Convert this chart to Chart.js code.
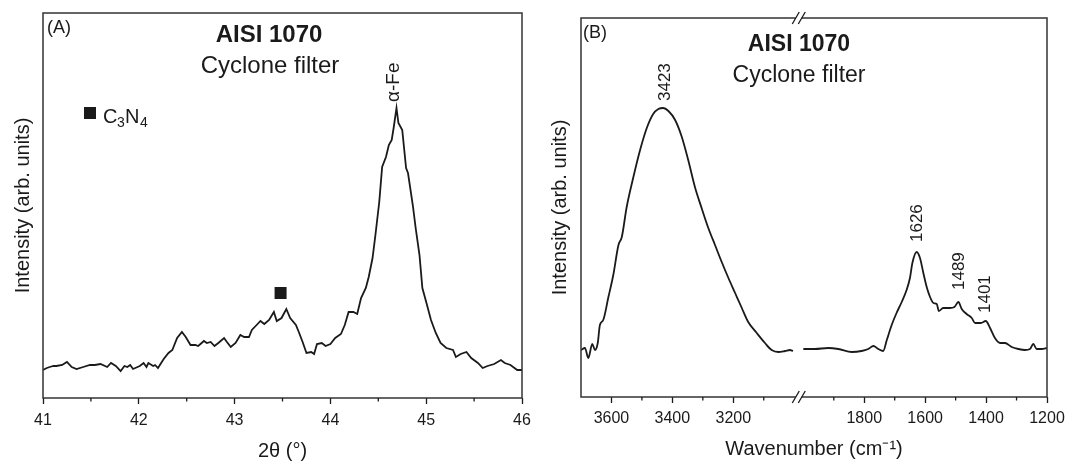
<!DOCTYPE html>
<html>
<head>
<meta charset="utf-8">
<title>AISI 1070 cyclone filter - XRD and FTIR</title>
<script src="https://cdn.jsdelivr.net/npm/chart.js@4.4.1/dist/chart.umd.min.js"></script>
<style>
  html, body { margin: 0; padding: 0; background: #fff; }
  #wrap { position: relative; width: 1067px; height: 461px; }
  canvas { position: absolute; top: 0; }
  #xrd { left: 0; }
  #ftir { left: 535px; }
</style>
</head>
<body>
<div id="wrap">
  <canvas id="xrd" width="535" height="461"></canvas>
  <canvas id="ftir" width="532" height="461"></canvas>
</div>
<script>
// (A) XRD pattern, 2theta in degrees, intensity in arbitrary units
const xrdTheta = [41.00, 41.04, 41.07, 41.11, 41.14, 41.20, 41.25, 41.30, 41.35, 41.42, 41.49, 41.54, 41.60, 41.67,
  41.71, 41.76, 41.81, 41.85, 41.88, 41.91, 41.94, 42.01, 42.05, 42.08, 42.10, 42.15, 42.17, 42.20, 42.26, 42.31,
  42.35, 42.40, 42.45, 42.49, 42.54, 42.59, 42.62, 42.68, 42.71, 42.75, 42.79, 42.83, 42.89, 42.92, 42.96, 43.01,
  43.06, 43.10, 43.15, 43.18, 43.23, 43.27, 43.31, 43.36, 43.41, 43.44, 43.49, 43.54, 43.58, 43.64, 43.67, 43.71,
  43.75, 43.80, 43.83, 43.86, 43.91, 43.95, 44.00, 44.05, 44.11, 44.15, 44.19, 44.24, 44.28, 44.32, 44.37, 44.40,
  44.44, 44.47, 44.51, 44.54, 44.58, 44.61, 44.64, 44.66, 44.69, 44.71, 44.75, 44.79, 44.81, 44.86, 44.89, 44.93,
  44.96, 45.00, 45.05, 45.10, 45.15, 45.21, 45.28, 45.31, 45.36, 45.42, 45.47, 45.54, 45.59, 45.64, 45.71, 45.78,
  45.82, 45.88, 45.95, 46.00];
const xrdIntensity = [27, 29, 30, 31, 31, 32, 35, 30, 28, 30, 32, 32, 33, 30,
  34, 31, 26, 31, 30, 32, 28, 31, 34, 30, 34, 31, 32, 29, 38, 44,
  47, 59, 65, 60, 52, 52, 51, 56, 54, 55, 51, 54, 59, 55, 50, 54,
  62, 60, 60, 67, 72, 76, 73, 77, 85, 76, 79, 88, 79, 72, 65, 55,
  44, 45, 43, 53, 54, 51, 53, 59, 63, 72, 85, 85, 83, 99, 109, 120,
  139, 162, 195, 230, 240, 252, 257, 269, 289, 274, 267, 229, 224, 192, 169, 142,
  109, 95, 77, 64, 54, 49, 47, 40, 43, 45, 39, 34, 29, 31, 33, 37,
  34, 32, 27, 27];
const xrdMajorTicks = [41, 42, 43, 44, 45, 46];
const xrdMinorTicks = [41.5, 42.5, 43.5, 44.5, 45.5];

// (B) FTIR spectrum, wavenumber in cm-1; the axis is broken between 3000 and 2000
const ftirHighWn = [3700, 3687, 3676, 3663, 3654, 3645, 3638, 3627, 3610, 3594, 3577, 3566, 3550, 3528, 3506,
  3484, 3463, 3446, 3430, 3413, 3391, 3369, 3348, 3326, 3304, 3282, 3260, 3238, 3216, 3194, 3172, 3151, 3123,
  3096, 3074, 3052, 3030, 3014, 3004];
const ftirHighI = [47, 49, 39, 53, 47, 54, 72, 77, 100, 122, 152, 160, 190, 220, 247,
  269, 283, 288, 289, 286, 277, 260, 237, 210, 189, 169, 152, 135, 119, 104, 89, 75, 64,
  54, 47, 45, 46, 47, 46];
const ftirLowWn = [2000, 1962, 1918, 1885, 1841, 1809, 1787, 1770, 1754, 1738, 1726, 1710, 1694, 1677, 1661,
  1650, 1642, 1628, 1617, 1606, 1595, 1584, 1573, 1562, 1555, 1541, 1519, 1504, 1491, 1480, 1464, 1447, 1436,
  1417, 1401, 1387, 1371, 1354, 1338, 1316, 1294, 1272, 1256, 1245, 1234, 1217, 1200];
const ftirLowI = [48, 48, 49, 48, 45, 46, 48, 51, 48, 46, 57, 72, 84, 95, 107,
  119, 134, 145, 139, 124, 110, 100, 94, 93, 86, 89, 89, 90, 95, 88, 83, 79, 74,
  74, 76, 69, 59, 54, 54, 50, 48, 47, 48, 53, 48, 48, 49];
const ftirMajorTicks = [3600, 3400, 3200, 1800, 1600, 1400, 1200];
const ftirMinorTicks = [3500, 3300, 3100, 1900, 1700, 1500, 1300];
const ftirPeaks = [3423, 1626, 1489, 1401];
const ftirPeakTop = [296, 155, 107, 84];   // intensity where each rotated label starts

const INK = '#1a1a1a';
Chart.defaults.font.family = '"Liberation Sans", Arial, sans-serif';
Chart.defaults.color = INK;

// broken axis: 3700..3000 then a short gap then 2000..1200, all on one linear scale
const BREAK_HI = 3000, BREAK_LO = 2000, BREAK_GAP = 30;
const wnToPos = w => w >= BREAK_HI ? 3700 - w : (3700 - BREAK_HI) + BREAK_GAP + (BREAK_LO - w);
const posToWn = p => p <= 3700 - BREAK_HI ? 3700 - p : BREAK_LO - (p - (3700 - BREAK_HI) - BREAK_GAP);

function drawFrame(chart) {
  const {ctx, chartArea: a} = chart;
  ctx.save();
  ctx.strokeStyle = '#333';
  ctx.lineWidth = 1.5;
  ctx.strokeRect(a.left, a.top, a.right - a.left, a.bottom - a.top);
  ctx.restore();
}

function drawMinorTicks(chart, values) {
  const {ctx, chartArea: a, scales: {x}} = chart;
  ctx.save();
  ctx.strokeStyle = INK;
  ctx.lineWidth = 1.3;
  ctx.beginPath();
  values.forEach(v => {
    const px = x.getPixelForValue(v);
    ctx.moveTo(px, a.bottom);
    ctx.lineTo(px, a.bottom + 3.5);
  });
  ctx.stroke();
  ctx.restore();
}

function text(ctx, str, x, y, size, opts = {}) {
  ctx.save();
  ctx.fillStyle = INK;
  ctx.font = (opts.bold ? 'bold ' : '') + size + 'px "Liberation Sans", Arial, sans-serif';
  ctx.textAlign = opts.align || 'left';
  ctx.textBaseline = opts.baseline || 'alphabetic';
  if (opts.rotate) {
    ctx.translate(x, y);
    ctx.rotate(-Math.PI / 2);
    ctx.fillText(str, 0, 0);
  } else {
    ctx.fillText(str, x, y);
  }
  ctx.restore();
}

function drawBreak(ctx, cx, cy) {
  ctx.save();
  ctx.fillStyle = '#fff';
  ctx.fillRect(cx - 3, cy - 2, 6, 4);
  ctx.strokeStyle = INK;
  ctx.lineWidth = 1.3;
  ctx.beginPath();
  [-3, 3].forEach(dx => {
    ctx.moveTo(cx + dx - 3.5, cy + 6);
    ctx.lineTo(cx + dx + 3.5, cy - 6);
  });
  ctx.stroke();
  ctx.restore();
}

// keep the plot frame fixed: no extra room for overhanging end labels
function fixBottomAxis(height) {
  return s => {
    s.height = height;
    s.paddingLeft = 0;
    s.paddingRight = 0;
  };
}

const xrdNotes = {
  id: 'xrdNotes',
  afterDraw(chart) {
    const {ctx, chartArea: a, scales: {x, y}} = chart;
    drawFrame(chart);
    drawMinorTicks(chart, xrdMinorTicks);
    text(ctx, '(A)', a.left + 4, a.top + 20, 18);
    text(ctx, 'AISI 1070', a.left + 226, a.top + 29, 24, {bold: true, align: 'center'});
    text(ctx, 'Cyclone filter', a.left + 227, a.top + 60, 24, {align: 'center'});
    // legend: filled square + C3N4
    ctx.fillStyle = INK;
    ctx.fillRect(a.left + 41, a.top + 94, 12, 12);
    text(ctx, 'C', a.left + 60, a.top + 110, 20);
    text(ctx, '3', a.left + 74, a.top + 114, 14);
    text(ctx, 'N', a.left + 82, a.top + 110, 20);
    text(ctx, '4', a.left + 97, a.top + 114, 14);
    // C3N4 reflection marker and alpha-Fe label
    const mx = x.getPixelForValue(43.48), my = y.getPixelForValue(104);
    ctx.fillRect(mx - 6, my - 6, 12, 12);
    text(ctx, 'α-Fe', x.getPixelForValue(44.66), y.getPixelForValue(295), 19, {rotate: true, baseline: 'middle'});
  }
};

const ftirNotes = {
  id: 'ftirNotes',
  afterDraw(chart) {
    const {ctx, chartArea: a, scales: {x, y}} = chart;
    drawFrame(chart);
    drawMinorTicks(chart, ftirMinorTicks.map(wnToPos));
    const bx = (x.getPixelForValue(3700 - BREAK_HI) + x.getPixelForValue(3700 - BREAK_HI + BREAK_GAP)) / 2;
    drawBreak(ctx, bx, a.top);
    drawBreak(ctx, bx, a.bottom);
    text(ctx, '(B)', a.left + 2, a.top + 20, 18);
    text(ctx, 'AISI 1070', a.left + 218, a.top + 33, 23, {bold: true, align: 'center'});
    text(ctx, 'Cyclone filter', a.left + 218, a.top + 64, 23, {align: 'center'});
    ftirPeaks.forEach((w, i) => {
      text(ctx, String(w), x.getPixelForValue(wnToPos(w)), y.getPixelForValue(ftirPeakTop[i]), 17,
        {rotate: true, baseline: 'middle'});
    });
  }
};

const lineStyle = {borderColor: INK, borderWidth: 1.8, pointRadius: 0, fill: false};

new Chart(document.getElementById('xrd'), {
  type: 'line',
  data: {
    datasets: [{
      ...lineStyle,
      tension: 0,
      data: xrdTheta.map((t, i) => ({x: t, y: xrdIntensity[i]}))
    }]
  },
  options: {
    responsive: false,
    animation: false,
    layout: {padding: {top: 13, right: 13, left: 0, bottom: 0}},
    plugins: {legend: {display: false}, tooltip: {enabled: false}},
    scales: {
      x: {
        type: 'linear', min: 41, max: 46,
        afterBuildTicks: s => { s.ticks = xrdMajorTicks.map(v => ({value: v})); },
        ticks: {autoSkip: false, maxRotation: 0, padding: 7, font: {size: 16}, color: INK},
        grid: {drawOnChartArea: false, tickLength: 6, tickWidth: 1.3, tickColor: INK},
        border: {display: false},
        title: {display: true, text: '2θ (°)', font: {size: 20, lineHeight: 1}, padding: {top: 0, bottom: 0}, color: INK},
        afterFit: fixBottomAxis(63)
      },
      y: {
        min: -1, max: 384,
        ticks: {display: false},
        grid: {display: false},
        border: {display: false},
        title: {display: true, text: 'Intensity (arb. units)', font: {size: 20, lineHeight: 1}, padding: {top: 13}, color: INK},
        afterFit: s => { s.width = 43; }
      }
    }
  },
  plugins: [xrdNotes]
});

new Chart(document.getElementById('ftir'), {
  type: 'line',
  data: {
    datasets: [{
      ...lineStyle,
      cubicInterpolationMode: 'monotone',
      data: ftirHighWn.map((w, i) => ({x: wnToPos(w), y: ftirHighI[i]}))
    }, {
      ...lineStyle,
      cubicInterpolationMode: 'monotone',
      data: ftirLowWn.map((w, i) => ({x: wnToPos(w), y: ftirLowI[i]}))
    }]
  },
  options: {
    responsive: false,
    animation: false,
    layout: {padding: {top: 18, right: 20, left: 0, bottom: 0}},
    plugins: {legend: {display: false}, tooltip: {enabled: false}},
    scales: {
      x: {
        type: 'linear', min: 0, max: wnToPos(1200),
        afterBuildTicks: s => { s.ticks = ftirMajorTicks.map(w => ({value: wnToPos(w)})); },
        ticks: {autoSkip: false, maxRotation: 0, padding: 6, font: {size: 16}, color: INK,
          callback: v => String(Math.round(posToWn(v)))},
        grid: {drawOnChartArea: false, tickLength: 6, tickWidth: 1.3, tickColor: INK},
        border: {display: false},
        title: {display: true, text: 'Wavenumber (cm⁻¹)', font: {size: 20, lineHeight: 1}, padding: {top: 0, bottom: 2}, color: INK},
        afterFit: fixBottomAxis(64)
      },
      y: {
        min: 0, max: 379,
        ticks: {display: false},
        grid: {display: false},
        border: {display: false},
        title: {display: true, text: 'Intensity (arb. units)', font: {size: 20, lineHeight: 1}, padding: {top: 15}, color: INK},
        afterFit: s => { s.width = 46; }
      }
    }
  },
  plugins: [ftirNotes]
});
</script>
</body>
</html>
